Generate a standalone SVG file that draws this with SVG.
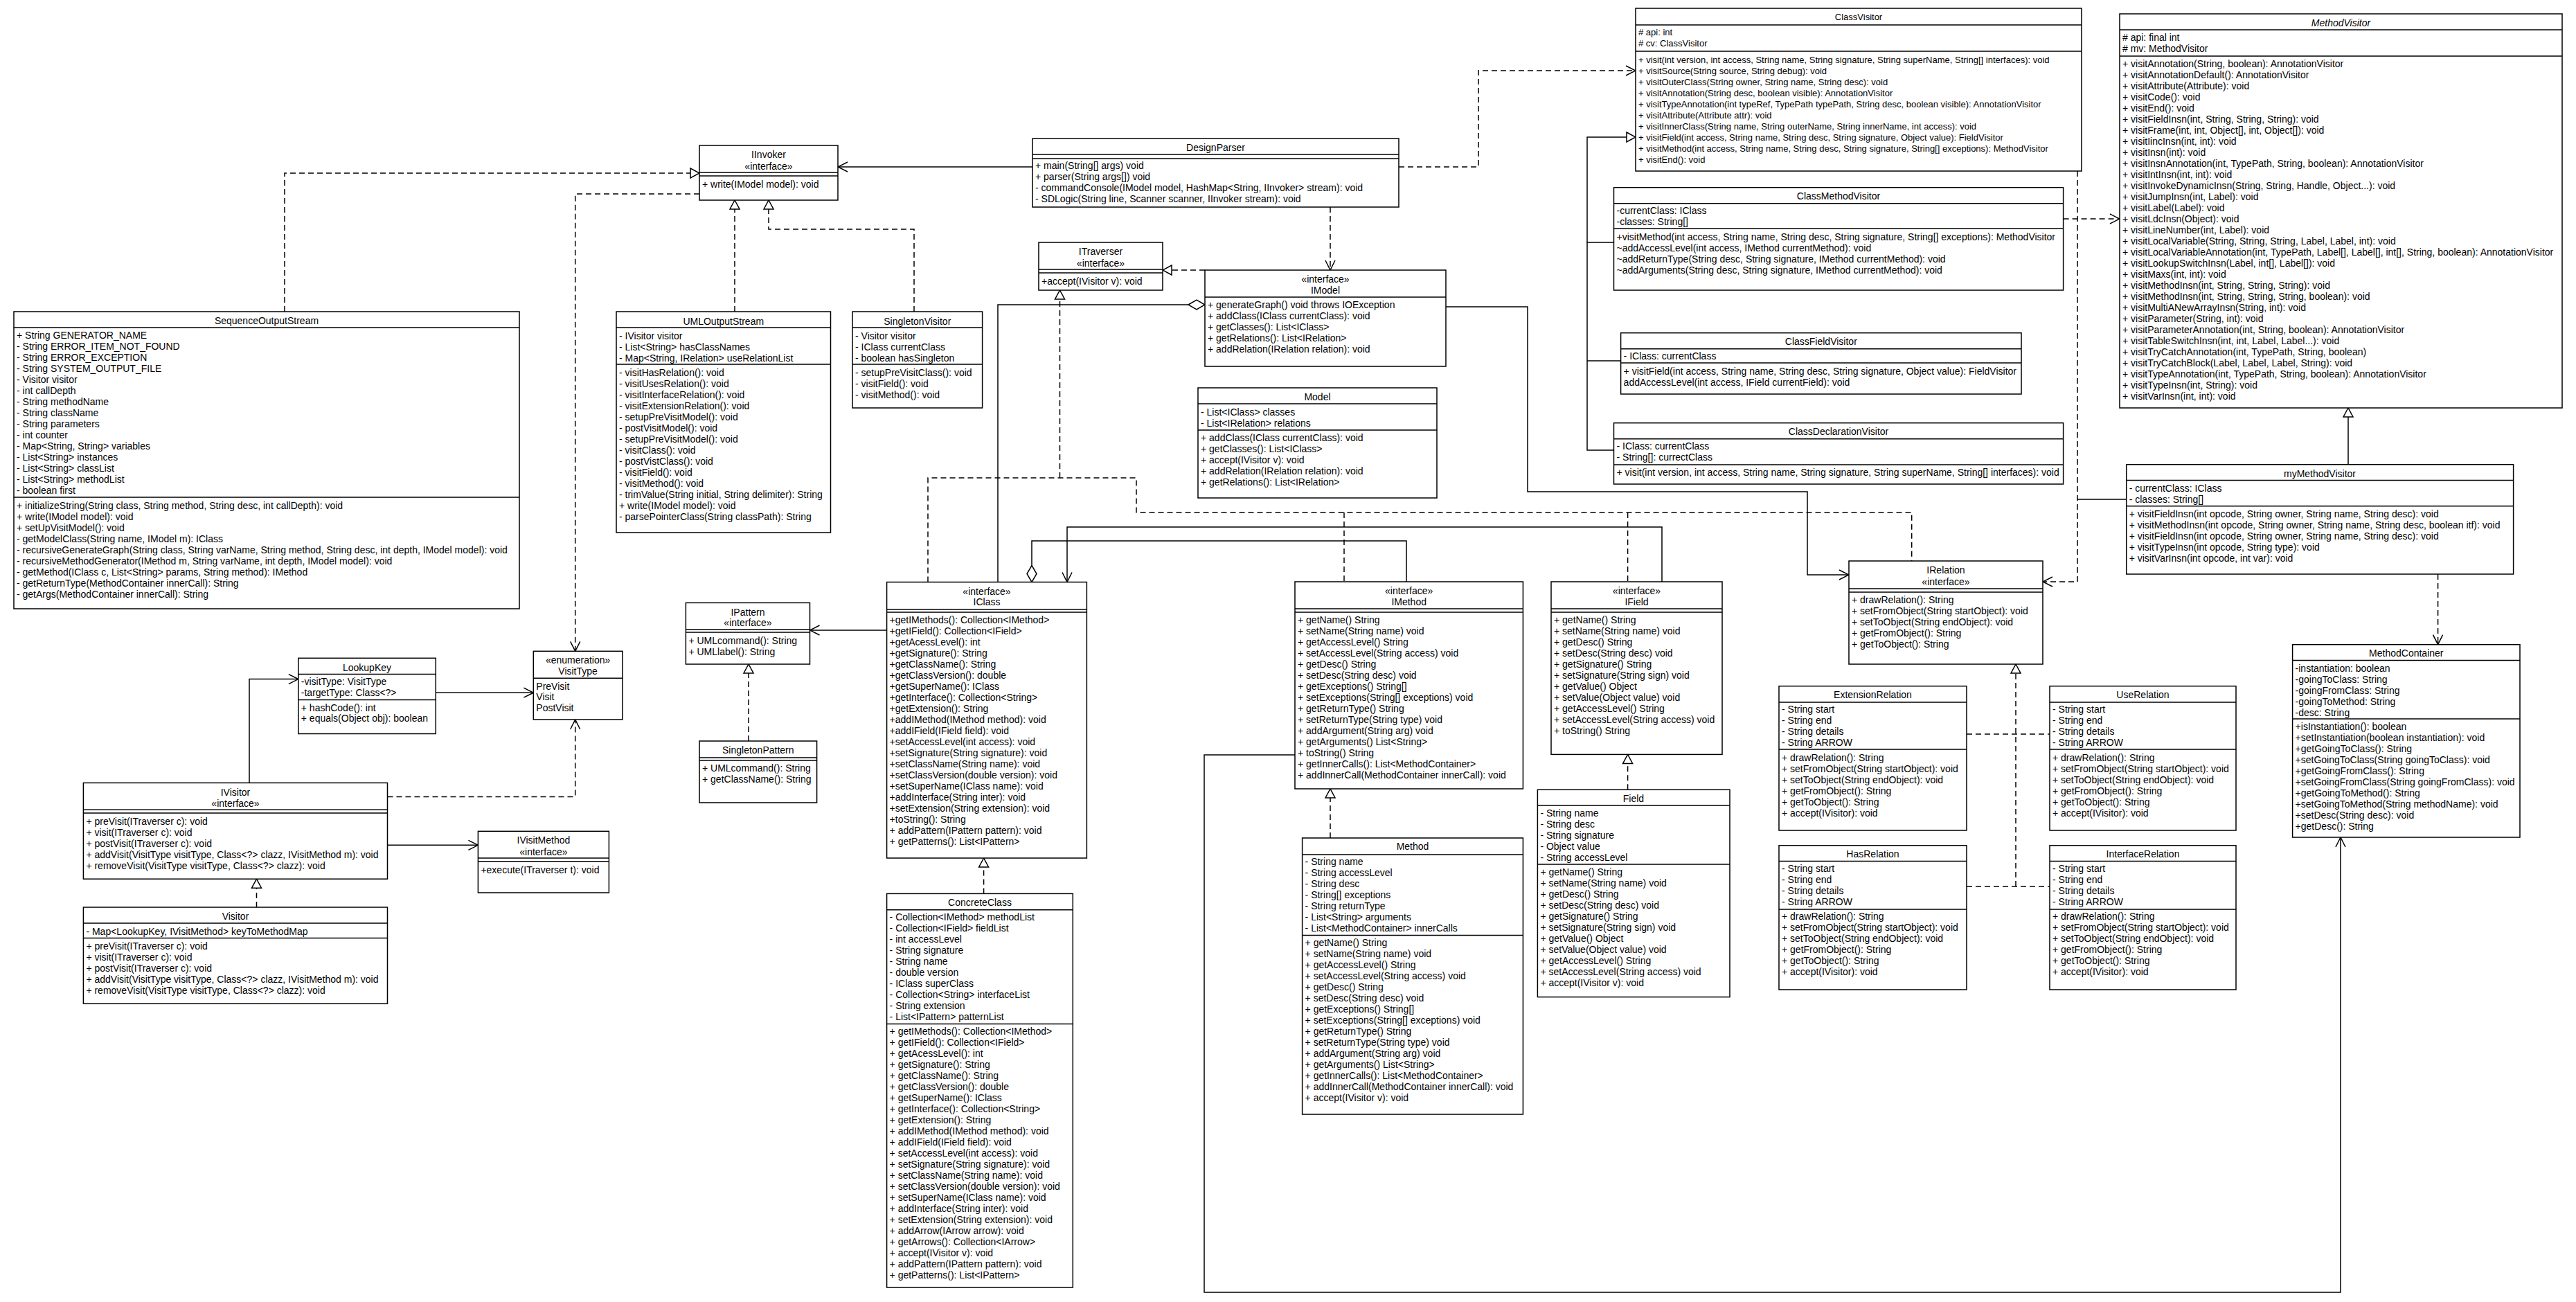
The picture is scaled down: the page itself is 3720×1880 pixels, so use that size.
<svg xmlns="http://www.w3.org/2000/svg" width="3720" height="1880" viewBox="0 0 3720 1880">
<style>
text{font-family:"Liberation Sans",Arial,sans-serif;font-size:14px;fill:#000}
.c{text-anchor:middle}
.b{fill:#fff;stroke:#000;stroke-width:1.5}
.s{stroke:#000;stroke-width:1.5;fill:none}
.e{fill:none;stroke:#000;stroke-width:1.5}
.d{stroke-dasharray:8 5}
.it{font-style:italic}
.f13 text{font-size:13px}
</style>
<defs>
<marker id="open" viewBox="0 0 16 16" refX="15" refY="8" markerWidth="16" markerHeight="16" markerUnits="userSpaceOnUse" orient="auto"><path d="M1 1L15 8L1 15" fill="none" stroke="#000" stroke-width="1.5"/></marker>
<marker id="tri" viewBox="0 0 16 18" refX="15" refY="9" markerWidth="16" markerHeight="18" markerUnits="userSpaceOnUse" orient="auto"><path d="M2 2L15 9L2 16Z" fill="#fff" stroke="#000" stroke-width="1.5"/></marker>
<marker id="dia" viewBox="0 0 26 18" refX="25" refY="9" markerWidth="26" markerHeight="18" markerUnits="userSpaceOnUse" orient="auto"><path d="M1 9L13 2L25 9L13 16Z" fill="#fff" stroke="#000" stroke-width="1.5"/></marker>
</defs>
<rect width="3720" height="1880" fill="#fff"/>

<g id="connectors">
<path class="e" d="M1491 241H1210" marker-end="url(#open)"/>
<path class="e d" d="M2020 241H2135V102H2362" marker-end="url(#open)"/>
<path class="e d" d="M1921 299V390" marker-end="url(#open)"/>
<path class="e d" d="M1740 390H1679" marker-end="url(#tri)"/>
<path class="e" d="M1441 840.5V440H1740" marker-end="url(#dia)"/>
<path class="e" d="M2088 443H2206V710H2610V830H2670" marker-end="url(#open)"/>
<path class="e d" d="M411 450V250H1010" marker-end="url(#tri)"/>
<path class="e d" d="M1061 450V289" marker-end="url(#tri)"/>
<path class="e d" d="M1320 450V331H1110V289" marker-end="url(#tri)"/>
<path class="e d" d="M1010 280H830.7V940.3" marker-end="url(#open)"/>
<path class="e" d="M1280.6 910H1169.5" marker-end="url(#open)"/>
<path class="e d" d="M1081 1070V959" marker-end="url(#tri)"/>
<path class="e d" d="M1420.6 1290.4V1239" marker-end="url(#tri)"/>
<path class="e d" d="M1340 840.5V690H1641V740H2760.7V810M1941 740V840M2350.6 740V840"/>
<path class="e d" d="M1530.5 690V419" marker-end="url(#tri)"/>
<path class="e" d="M2031 840V781H1490V840.5" marker-end="url(#dia)"/>
<path class="e" d="M2400 840V761H1541V840.5" marker-end="url(#open)"/>
<path class="e" d="M1870 1090H1739V1866H3380V1209" marker-end="url(#open)"/>
<path class="e d" d="M1921 1210V1139" marker-end="url(#tri)"/>
<path class="e d" d="M2350.6 1140.3V1089.4" marker-end="url(#tri)"/>
<path class="e" d="M629.3 1000.2H770.3" marker-end="url(#open)"/>
<path class="e" d="M360 1130.4V980.6H430.8" marker-end="url(#open)"/>
<path class="e d" d="M559.5 1150.4H830.7V1039" marker-end="url(#open)"/>
<path class="e" d="M559.5 1220.3H690.4" marker-end="url(#open)"/>
<path class="e d" d="M370.5 1310V1269.2" marker-end="url(#tri)"/>
<path class="e d" d="M2911 1280V959" marker-end="url(#tri)"/>
<path class="e d" d="M2840 1060H2960M2840 1280H2960"/>
<path class="e d" d="M3000 247V840H2950" marker-end="url(#open)"/>
<path class="e d" d="M2979.6 316H3061" marker-end="url(#open)"/>
<path class="e" d="M2330.5 350H2292V198H2362" marker-end="url(#tri)"/>
<path class="e" d="M2340.6 521H2292M2330.5 650H2292V350"/>
<path class="e" d="M3391 670.7V589" marker-end="url(#tri)"/>
<path class="e d" d="M3520.6 829V930.7" marker-end="url(#open)"/>
<path class="e" d="M3000 721H3070.7"/>
</g>

<g id="IInvoker">
<rect class="b" x="1010" y="210" width="200" height="79"/>
<path class="s" d="M1010 249H1210M1010 254H1210"/>
<text class="c" x="1110" y="228">IInvoker</text>
<text class="c" x="1110" y="245">«interface»</text>
<text x="1014" y="271">+ write(IModel model): void</text>
</g>

<g id="DesignParser">
<rect class="b" x="1491" y="200" width="529" height="99"/>
<path class="s" d="M1491 223H2020M1491 229H2020"/>
<text class="c" x="1755.5" y="218">DesignParser</text>
<text x="1495" y="244">+ main(String[] args) void</text>
<text x="1495" y="260">+ parser(String args[]) void</text>
<text x="1495" y="276">- commandConsole(IModel model, HashMap&lt;String, IInvoker&gt; stream): void</text>
<text x="1495" y="292">- SDLogic(String line, Scanner scanner, IInvoker stream): void</text>
</g>

<g id="ClassVisitor" class="f13">
<rect class="b" x="2362" y="12" width="644" height="235"/>
<path class="s" d="M2362 36H3006M2362 74H3006"/>
<text class="c" x="2684" y="29">ClassVisitor</text>
<text x="2366" y="51"># api: int</text>
<text x="2366" y="67"># cv: ClassVisitor</text>
<text x="2366" y="91">+ visit(int version, int access, String name, String signature, String superName, String[] interfaces): void</text>
<text x="2366" y="107">+ visitSource(String source, String debug): void</text>
<text x="2366" y="123">+ visitOuterClass(String owner, String name, String desc): void</text>
<text x="2366" y="139">+ visitAnnotation(String desc, boolean visible): AnnotationVisitor</text>
<text x="2366" y="155">+ visitTypeAnnotation(int typeRef, TypePath typePath, String desc, boolean visible): AnnotationVisitor</text>
<text x="2366" y="171">+ visitAttribute(Attribute attr): void</text>
<text x="2366" y="187">+ visitInnerClass(String name, String outerName, String innerName, int access): void</text>
<text x="2366" y="203">+ visitField(int access, String name, String desc, String signature, Object value): FieldVisitor</text>
<text x="2366" y="219">+ visitMethod(int access, String name, String desc, String signature, String[] exceptions): MethodVisitor</text>
<text x="2366" y="235">+ visitEnd(): void</text>
</g>

<g id="MethodVisitor">
<rect class="b" x="3061" y="20" width="639" height="569"/>
<path class="s" d="M3061 43H3700M3061 81H3700"/>
<text class="c it" x="3380.5" y="38">MethodVisitor</text>
<text x="3065" y="59"># api: final int</text>
<text x="3065" y="75"># mv: MethodVisitor</text>
<text x="3065" y="97">+ visitAnnotation(String, boolean): AnnotationVisitor</text>
<text x="3065" y="113">+ visitAnnotationDefault(): AnnotationVisitor</text>
<text x="3065" y="129">+ visitAttribute(Attribute): void</text>
<text x="3065" y="145">+ visitCode(): void</text>
<text x="3065" y="161">+ visitEnd(): void</text>
<text x="3065" y="177">+ visitFieldInsn(int, String, String, String): void</text>
<text x="3065" y="193">+ visitFrame(int, int, Object[], int, Object[]): void</text>
<text x="3065" y="209">+ visitIincInsn(int, int): void</text>
<text x="3065" y="225">+ visitInsn(int): void</text>
<text x="3065" y="241">+ visitInsnAnnotation(int, TypePath, String, boolean): AnnotationVisitor</text>
<text x="3065" y="257">+ visitIntInsn(int, int): void</text>
<text x="3065" y="273">+ visitInvokeDynamicInsn(String, String, Handle, Object...): void</text>
<text x="3065" y="289">+ visitJumpInsn(int, Label): void</text>
<text x="3065" y="305">+ visitLabel(Label): void</text>
<text x="3065" y="321">+ visitLdcInsn(Object): void</text>
<text x="3065" y="337">+ visitLineNumber(int, Label): void</text>
<text x="3065" y="353">+ visitLocalVariable(String, String, String, Label, Label, int): void</text>
<text x="3065" y="369">+ visitLocalVariableAnnotation(int, TypePath, Label[], Label[], int[], String, boolean): AnnotationVisitor</text>
<text x="3065" y="385">+ visitLookupSwitchInsn(Label, int[], Label[]): void</text>
<text x="3065" y="401">+ visitMaxs(int, int): void</text>
<text x="3065" y="417">+ visitMethodInsn(int, String, String, String): void</text>
<text x="3065" y="433">+ visitMethodInsn(int, String, String, String, boolean): void</text>
<text x="3065" y="449">+ visitMultiANewArrayInsn(String, int): void</text>
<text x="3065" y="465">+ visitParameter(String, int): void</text>
<text x="3065" y="481">+ visitParameterAnnotation(int, String, boolean): AnnotationVisitor</text>
<text x="3065" y="497">+ visitTableSwitchInsn(int, int, Label, Label...): void</text>
<text x="3065" y="513">+ visitTryCatchAnnotation(int, TypePath, String, boolean)</text>
<text x="3065" y="529">+ visitTryCatchBlock(Label, Label, Label, String): void</text>
<text x="3065" y="545">+ visitTypeAnnotation(int, TypePath, String, boolean): AnnotationVisitor</text>
<text x="3065" y="561">+ visitTypeInsn(int, String): void</text>
<text x="3065" y="577">+ visitVarInsn(int, int): void</text>
</g>

<g id="ClassMethodVisitor">
<rect class="b" x="2330.5" y="270.7" width="649.1" height="148.3"/>
<path class="s" d="M2330.5 293.7H2979.6M2330.5 330H2979.6"/>
<text class="c" x="2655" y="288">ClassMethodVisitor</text>
<text x="2334.5" y="309">-currentClass: IClass</text>
<text x="2334.5" y="325">-classes: String[]</text>
<text x="2334.5" y="347">+visitMethod(int access, String name, String desc, String signature, String[] exceptions): MethodVisitor</text>
<text x="2334.5" y="363">~addAccessLevel(int access, IMethod currentMethod): void</text>
<text x="2334.5" y="379">~addReturnType(String desc, String signature, IMethod currentMethod): void</text>
<text x="2334.5" y="395">~addArguments(String desc, String signature, IMethod currentMethod): void</text>
</g>

<g id="ClassFieldVisitor">
<rect class="b" x="2340.6" y="480.7" width="578.4" height="88.3"/>
<path class="s" d="M2340.6 503.7H2919M2340.6 524H2919"/>
<text class="c" x="2629.8" y="498">ClassFieldVisitor</text>
<text x="2344.6" y="519">- IClass: currentClass</text>
<text x="2344.6" y="541">+ visitField(int access, String name, String desc, String signature, Object value): FieldVisitor</text>
<text x="2344.6" y="557">addAccessLevel(int access, IField currentField): void</text>
</g>

<g id="ClassDeclarationVisitor">
<rect class="b" x="2330.5" y="610.7" width="649.1" height="88.3"/>
<path class="s" d="M2330.5 633.7H2979.6M2330.5 671H2979.6"/>
<text class="c" x="2655" y="628">ClassDeclarationVisitor</text>
<text x="2334.5" y="649">- IClass: currentClass</text>
<text x="2334.5" y="665">- String[]: currectClass</text>
<text x="2334.5" y="687">+ visit(int version, int access, String name, String signature, String superName, String[] interfaces): void</text>
</g>

<g id="myMethodVisitor">
<rect class="b" x="3070.7" y="670.7" width="558.9" height="158.3"/>
<path class="s" d="M3070.7 693.6H3629.6M3070.7 730.7H3629.6"/>
<text class="c" x="3350" y="688.6">myMethodVisitor</text>
<text x="3074.7" y="709.6">- currentClass: IClass</text>
<text x="3074.7" y="725.7">- classes: String[]</text>
<text x="3074.7" y="747">+ visitFieldInsn(int opcode, String owner, String name, String desc): void</text>
<text x="3074.7" y="763">+ visitMethodInsn(int opcode, String owner, String name, String desc, boolean itf): void</text>
<text x="3074.7" y="779">+ visitFieldInsn(int opcode, String owner, String name, String desc): void</text>
<text x="3074.7" y="795">+ visitTypeInsn(int opcode, String type): void</text>
<text x="3074.7" y="811">+ visitVarInsn(int opcode, int var): void</text>
</g>

<g id="MethodContainer">
<rect class="b" x="3310.6" y="930.7" width="328.4" height="278.3"/>
<path class="s" d="M3310.6 953.6H3639M3310.6 1038H3639"/>
<text class="c" x="3474.8" y="948">MethodContainer</text>
<text x="3314.6" y="969.6">-instantiation: boolean</text>
<text x="3314.6" y="985.6">-goingToClass: String</text>
<text x="3314.6" y="1001.6">-goingFromClass: String</text>
<text x="3314.6" y="1017.6">-goingToMethod: String</text>
<text x="3314.6" y="1033.6">-desc: String</text>
<text x="3314.6" y="1054">+isInstantiation(): boolean</text>
<text x="3314.6" y="1070">+setInstantiation(boolean instantiation): void</text>
<text x="3314.6" y="1086">+getGoingToClass(): String</text>
<text x="3314.6" y="1102">+setGoingToClass(String goingToClass): void</text>
<text x="3314.6" y="1118">+getGoingFromClass(): String</text>
<text x="3314.6" y="1134">+setGoingFromClass(String goingFromClass): void</text>
<text x="3314.6" y="1150">+getGoingToMethod(): String</text>
<text x="3314.6" y="1166">+setGoingToMethod(String methodName): void</text>
<text x="3314.6" y="1182">+setDesc(String desc): void</text>
<text x="3314.6" y="1198">+getDesc(): String</text>
</g>

<g id="SequenceOutputStream">
<rect class="b" x="20" y="450" width="730" height="429"/>
<path class="s" d="M20 473H750M20 718H750"/>
<text class="c" x="385" y="468">SequenceOutputStream</text>
<text x="24" y="489">+ String GENERATOR_NAME</text>
<text x="24" y="505">- String ERROR_ITEM_NOT_FOUND</text>
<text x="24" y="521">- String ERROR_EXCEPTION</text>
<text x="24" y="537">- String SYSTEM_OUTPUT_FILE</text>
<text x="24" y="553">- Visitor visitor</text>
<text x="24" y="569">- int callDepth</text>
<text x="24" y="585">- String methodName</text>
<text x="24" y="601">- String className</text>
<text x="24" y="617">- String parameters</text>
<text x="24" y="633">- int counter</text>
<text x="24" y="649">- Map&lt;String, String&gt; variables</text>
<text x="24" y="665">- List&lt;String&gt; instances</text>
<text x="24" y="681">- List&lt;String&gt; classList</text>
<text x="24" y="697">- List&lt;String&gt; methodList</text>
<text x="24" y="713">- boolean first</text>
<text x="24" y="735">+ initializeString(String class, String method, String desc, int callDepth): void</text>
<text x="24" y="751">+ write(IModel model): void</text>
<text x="24" y="767">+ setUpVisitModel(): void</text>
<text x="24" y="783">- getModelClass(String name, IModel m): IClass</text>
<text x="24" y="799">- recursiveGenerateGraph(String class, String varName, String method, String desc, int depth, IModel model): void</text>
<text x="24" y="815">- recursiveMethodGenerator(IMethod m, String varName, int depth, IModel model): void</text>
<text x="24" y="831">- getMethod(IClass c, List&lt;String&gt; params, String method): IMethod</text>
<text x="24" y="847">- getReturnType(MethodContainer innerCall): String</text>
<text x="24" y="863">- getArgs(MethodContainer innerCall): String</text>
</g>

<g id="UMLOutputStream">
<rect class="b" x="890" y="450" width="309.5" height="319"/>
<path class="s" d="M890 473H1199.5M890 526H1199.5"/>
<text class="c" x="1044.75" y="469">UMLOutputStream</text>
<text x="894" y="490">- IVisitor visitor</text>
<text x="894" y="506">- List&lt;String&gt; hasClassNames</text>
<text x="894" y="522">- Map&lt;String, IRelation&gt; useRelationList</text>
<text x="894" y="543">- visitHasRelation(): void</text>
<text x="894" y="559">- visitUsesRelation(): void</text>
<text x="894" y="575">- visitInterfaceRelation(): void</text>
<text x="894" y="591">- visitExtensionRelation(): void</text>
<text x="894" y="607">- setupPreVisitModel(): void</text>
<text x="894" y="623">- postVisitModel(): void</text>
<text x="894" y="639">- setupPreVisitModel(): void</text>
<text x="894" y="655">- visitClass(): void</text>
<text x="894" y="671">- postVistClass(): void</text>
<text x="894" y="687">- visitField(): void</text>
<text x="894" y="703">- visitMethod(): void</text>
<text x="894" y="719">- trimValue(String initial, String delimiter): String</text>
<text x="894" y="735">+ write(IModel model): void</text>
<text x="894" y="751">- parsePointerClass(String classPath): String</text>
</g>

<g id="SingletonVisitor">
<rect class="b" x="1231" y="450" width="187.6" height="139"/>
<path class="s" d="M1231 473H1418.6M1231 526H1418.6"/>
<text class="c" x="1324.8" y="469">SingletonVisitor</text>
<text x="1235" y="490">- Visitor visitor</text>
<text x="1235" y="506">- IClass currentClass</text>
<text x="1235" y="522">- boolean hasSingleton</text>
<text x="1235" y="543">- setupPreVisitClass(): void</text>
<text x="1235" y="559">- visitField(): void</text>
<text x="1235" y="575">- visitMethod(): void</text>
</g>

<g id="ITraverser">
<rect class="b" x="1500" y="350" width="179" height="69"/>
<path class="s" d="M1500 389H1679M1500 394H1679"/>
<text class="c" x="1589.5" y="368">ITraverser</text>
<text class="c" x="1589.5" y="385">«interface»</text>
<text x="1504" y="411">+accept(IVisitor v): void</text>
</g>

<g id="IModel">
<rect class="b" x="1740" y="390" width="348" height="139"/>
<path class="s" d="M1740 429H2088"/>
<text class="c" x="1914" y="408">«interface»</text>
<text class="c" x="1914" y="424">IModel</text>
<text x="1744" y="445">+ generateGraph() void throws IOException</text>
<text x="1744" y="461">+ addClass(IClass currentClass): void</text>
<text x="1744" y="477">+ getClasses(): List&lt;IClass&gt;</text>
<text x="1744" y="493">+ getRelations(): List&lt;IRelation&gt;</text>
<text x="1744" y="509">+ addRelation(IRelation relation): void</text>
</g>

<g id="Model">
<rect class="b" x="1730" y="560" width="345" height="159"/>
<path class="s" d="M1730 583H2075M1730 621H2075"/>
<text class="c" x="1902.5" y="578">Model</text>
<text x="1734" y="600">- List&lt;IClass&gt; classes</text>
<text x="1734" y="616">- List&lt;IRelation&gt; relations</text>
<text x="1734" y="637">+ addClass(IClass currentClass): void</text>
<text x="1734" y="653">+ getClasses(): List&lt;IClass&gt;</text>
<text x="1734" y="669">+ accept(IVisitor v): void</text>
<text x="1734" y="685">+ addRelation(IRelation relation): void</text>
<text x="1734" y="701">+ getRelations(): List&lt;IRelation&gt;</text>
</g>

<g id="IClass">
<rect class="b" x="1280.6" y="840.5" width="288.8" height="398.5"/>
<path class="s" d="M1280.6 880H1569.4M1280.6 884H1569.4"/>
<text class="c" x="1425" y="858.6">«interface»</text>
<text class="c" x="1425" y="874">IClass</text>
<text x="1284.6" y="900">+getIMethods(): Collection&lt;IMethod&gt;</text>
<text x="1284.6" y="916">+getIField(): Collection&lt;IField&gt;</text>
<text x="1284.6" y="932">+getAcessLevel(): int</text>
<text x="1284.6" y="948">+getSignature(): String</text>
<text x="1284.6" y="964">+getClassName(): String</text>
<text x="1284.6" y="980">+getClassVersion(): double</text>
<text x="1284.6" y="996">+getSuperName(): IClass</text>
<text x="1284.6" y="1012">+getInterface(): Collection&lt;String&gt;</text>
<text x="1284.6" y="1028">+getExtension(): String</text>
<text x="1284.6" y="1044">+addIMethod(IMethod method): void</text>
<text x="1284.6" y="1060">+addIField(IField field): void</text>
<text x="1284.6" y="1076">+setAccessLevel(int access): void</text>
<text x="1284.6" y="1092">+setSignature(String signature): void</text>
<text x="1284.6" y="1108">+setClassName(String name): void</text>
<text x="1284.6" y="1124">+setClassVersion(double version): void</text>
<text x="1284.6" y="1140">+setSuperName(IClass name): void</text>
<text x="1284.6" y="1156">+addInterface(String inter): void</text>
<text x="1284.6" y="1172">+setExtension(String extension): void</text>
<text x="1284.6" y="1188">+toString(): String</text>
<text x="1284.6" y="1204">+ addPattern(IPattern pattern): void</text>
<text x="1284.6" y="1220">+ getPatterns(): List&lt;IPattern&gt;</text>
</g>

<g id="IPattern">
<rect class="b" x="990.4" y="870.4" width="179.1" height="88.6"/>
<path class="s" d="M990.4 909H1169.5M990.4 913H1169.5"/>
<text class="c" x="1080" y="888.5">IPattern</text>
<text class="c" x="1080" y="904">«interface»</text>
<text x="994.4" y="930">+ UMLcommand(): String</text>
<text x="994.4" y="946">+ UMLlabel(): String</text>
</g>

<g id="SingletonPattern">
<rect class="b" x="1010" y="1070" width="169.6" height="89"/>
<path class="s" d="M1010 1094H1179.6M1010 1098H1179.6"/>
<text class="c" x="1094.8" y="1088">SingletonPattern</text>
<text x="1014" y="1114">+ UMLcommand(): String</text>
<text x="1014" y="1130">+ getClassName(): String</text>
</g>

<g id="ConcreteClass">
<rect class="b" x="1280.6" y="1290.4" width="268.7" height="568.6"/>
<path class="s" d="M1280.6 1313.7H1549.3M1280.6 1478.6H1549.3"/>
<text class="c" x="1415" y="1308">ConcreteClass</text>
<text x="1284.6" y="1329">- Collection&lt;IMethod&gt; methodList</text>
<text x="1284.6" y="1345">- Collection&lt;IField&gt; fieldList</text>
<text x="1284.6" y="1361">- int accessLevel</text>
<text x="1284.6" y="1377">- String signature</text>
<text x="1284.6" y="1393">- String name</text>
<text x="1284.6" y="1409">- double version</text>
<text x="1284.6" y="1425">- IClass superClass</text>
<text x="1284.6" y="1441">- Collection&lt;String&gt; interfaceList</text>
<text x="1284.6" y="1457">- String extension</text>
<text x="1284.6" y="1473">- List&lt;IPattern&gt; patternList</text>
<text x="1284.6" y="1494">+ getIMethods(): Collection&lt;IMethod&gt;</text>
<text x="1284.6" y="1510">+ getIField(): Collection&lt;IField&gt;</text>
<text x="1284.6" y="1526">+ getAcessLevel(): int</text>
<text x="1284.6" y="1542">+ getSignature(): String</text>
<text x="1284.6" y="1558">+ getClassName(): String</text>
<text x="1284.6" y="1574">+ getClassVersion(): double</text>
<text x="1284.6" y="1590">+ getSuperName(): IClass</text>
<text x="1284.6" y="1606">+ getInterface(): Collection&lt;String&gt;</text>
<text x="1284.6" y="1622">+ getExtension(): String</text>
<text x="1284.6" y="1638">+ addIMethod(IMethod method): void</text>
<text x="1284.6" y="1654">+ addIField(IField field): void</text>
<text x="1284.6" y="1670">+ setAccessLevel(int access): void</text>
<text x="1284.6" y="1686">+ setSignature(String signature): void</text>
<text x="1284.6" y="1702">+ setClassName(String name): void</text>
<text x="1284.6" y="1718">+ setClassVersion(double version): void</text>
<text x="1284.6" y="1734">+ setSuperName(IClass name): void</text>
<text x="1284.6" y="1750">+ addInterface(String inter): void</text>
<text x="1284.6" y="1766">+ setExtension(String extension): void</text>
<text x="1284.6" y="1782">+ addArrow(IArrow arrow): void</text>
<text x="1284.6" y="1798">+ getArrows(): Collection&lt;IArrow&gt;</text>
<text x="1284.6" y="1814">+ accept(IVisitor v): void</text>
<text x="1284.6" y="1830">+ addPattern(IPattern pattern): void</text>
<text x="1284.6" y="1846">+ getPatterns(): List&lt;IPattern&gt;</text>
</g>

<g id="IMethod">
<rect class="b" x="1870" y="840" width="329.4" height="299"/>
<path class="s" d="M1870 879H2199.4M1870 884H2199.4"/>
<text class="c" x="2034.7" y="858">«interface»</text>
<text class="c" x="2034.7" y="874">IMethod</text>
<text x="1874" y="900">+ getName() String</text>
<text x="1874" y="916">+ setName(String name) void</text>
<text x="1874" y="932">+ getAccessLevel() String</text>
<text x="1874" y="948">+ setAccessLevel(String access) void</text>
<text x="1874" y="964">+ getDesc() String</text>
<text x="1874" y="980">+ setDesc(String desc) void</text>
<text x="1874" y="996">+ getExceptions() String[]</text>
<text x="1874" y="1012">+ setExceptions(String[] exceptions) void</text>
<text x="1874" y="1028">+ getReturnType() String</text>
<text x="1874" y="1044">+ setReturnType(String type) void</text>
<text x="1874" y="1060">+ addArgument(String arg) void</text>
<text x="1874" y="1076">+ getArguments() List&lt;String&gt;</text>
<text x="1874" y="1092">+ toString() String</text>
<text x="1874" y="1108">+ getInnerCalls(): List&lt;MethodContainer&gt;</text>
<text x="1874" y="1124">+ addInnerCall(MethodContainer innerCall): void</text>
</g>

<g id="Method">
<rect class="b" x="1880.6" y="1210" width="318.8" height="399"/>
<path class="s" d="M1880.6 1234H2199.4M1880.6 1350.4H2199.4"/>
<text class="c" x="2040" y="1227.4">Method</text>
<text x="1884.6" y="1249">- String name</text>
<text x="1884.6" y="1265">- String accessLevel</text>
<text x="1884.6" y="1281">- String desc</text>
<text x="1884.6" y="1297">- String[] exceptions</text>
<text x="1884.6" y="1313">- String returnType</text>
<text x="1884.6" y="1329">- List&lt;String&gt; arguments</text>
<text x="1884.6" y="1345">- List&lt;MethodContainer&gt; innerCalls</text>
<text x="1884.6" y="1366">+ getName() String</text>
<text x="1884.6" y="1382">+ setName(String name) void</text>
<text x="1884.6" y="1398">+ getAccessLevel() String</text>
<text x="1884.6" y="1414">+ setAccessLevel(String access) void</text>
<text x="1884.6" y="1430">+ getDesc() String</text>
<text x="1884.6" y="1446">+ setDesc(String desc) void</text>
<text x="1884.6" y="1462">+ getExceptions() String[]</text>
<text x="1884.6" y="1478">+ setExceptions(String[] exceptions) void</text>
<text x="1884.6" y="1494">+ getReturnType() String</text>
<text x="1884.6" y="1510">+ setReturnType(String type) void</text>
<text x="1884.6" y="1526">+ addArgument(String arg) void</text>
<text x="1884.6" y="1542">+ getArguments() List&lt;String&gt;</text>
<text x="1884.6" y="1558">+ getInnerCalls(): List&lt;MethodContainer&gt;</text>
<text x="1884.6" y="1574">+ addInnerCall(MethodContainer innerCall): void</text>
<text x="1884.6" y="1590">+ accept(IVisitor v): void</text>
</g>

<g id="IField">
<rect class="b" x="2240" y="840" width="247" height="249.4"/>
<path class="s" d="M2240 879H2487M2240 884H2487"/>
<text class="c" x="2363.5" y="858">«interface»</text>
<text class="c" x="2363.5" y="874">IField</text>
<text x="2244" y="900">+ getName() String</text>
<text x="2244" y="916">+ setName(String name) void</text>
<text x="2244" y="932">+ getDesc() String</text>
<text x="2244" y="948">+ setDesc(String desc) void</text>
<text x="2244" y="964">+ getSignature() String</text>
<text x="2244" y="980">+ setSignature(String sign) void</text>
<text x="2244" y="996">+ getValue() Object</text>
<text x="2244" y="1012">+ setValue(Object value) void</text>
<text x="2244" y="1028">+ getAccessLevel() String</text>
<text x="2244" y="1044">+ setAccessLevel(String access) void</text>
<text x="2244" y="1060">+ toString() String</text>
</g>

<g id="Field">
<rect class="b" x="2220.4" y="1140.3" width="277.6" height="299.3"/>
<path class="s" d="M2220.4 1163H2498M2220.4 1248H2498"/>
<text class="c" x="2359" y="1158">Field</text>
<text x="2224.4" y="1179">- String name</text>
<text x="2224.4" y="1195">- String desc</text>
<text x="2224.4" y="1211">- String signature</text>
<text x="2224.4" y="1227">- Object value</text>
<text x="2224.4" y="1243">- String accessLevel</text>
<text x="2224.4" y="1264">+ getName() String</text>
<text x="2224.4" y="1280">+ setName(String name) void</text>
<text x="2224.4" y="1296">+ getDesc() String</text>
<text x="2224.4" y="1312">+ setDesc(String desc) void</text>
<text x="2224.4" y="1328">+ getSignature() String</text>
<text x="2224.4" y="1344">+ setSignature(String sign) void</text>
<text x="2224.4" y="1360">+ getValue() Object</text>
<text x="2224.4" y="1376">+ setValue(Object value) void</text>
<text x="2224.4" y="1392">+ getAccessLevel() String</text>
<text x="2224.4" y="1408">+ setAccessLevel(String access) void</text>
<text x="2224.4" y="1424">+ accept(IVisitor v): void</text>
</g>

<g id="IRelation">
<rect class="b" x="2670" y="810" width="280" height="149"/>
<path class="s" d="M2670 850H2950M2670 855H2950"/>
<text class="c" x="2810" y="828">IRelation</text>
<text class="c" x="2810" y="845">«interface»</text>
<text x="2674" y="870.5">+ drawRelation(): String</text>
<text x="2674" y="886.5">+ setFromObject(String startObject): void</text>
<text x="2674" y="902.5">+ setToObject(String endObject): void</text>
<text x="2674" y="918.5">+ getFromObject(): String</text>
<text x="2674" y="934.5">+ getToObject(): String</text>
</g>

<g id="ExtensionRelation">
<rect class="b" x="2569" y="990.7" width="271" height="208.3"/>
<path class="s" d="M2569 1014H2840M2569 1082H2840"/>
<text class="c" x="2704.5" y="1008">ExtensionRelation</text>
<text x="2573" y="1029">- String start</text>
<text x="2573" y="1045">- String end</text>
<text x="2573" y="1061">- String details</text>
<text x="2573" y="1077">- String ARROW</text>
<text x="2573" y="1098.5">+ drawRelation(): String</text>
<text x="2573" y="1114.5">+ setFromObject(String startObject): void</text>
<text x="2573" y="1130.5">+ setToObject(String endObject): void</text>
<text x="2573" y="1146.5">+ getFromObject(): String</text>
<text x="2573" y="1162.5">+ getToObject(): String</text>
<text x="2573" y="1178.5">+ accept(IVisitor): void</text>
</g>

<g id="UseRelation">
<rect class="b" x="2960" y="990.7" width="269" height="208.3"/>
<path class="s" d="M2960 1014H3229M2960 1082H3229"/>
<text class="c" x="3094.5" y="1008">UseRelation</text>
<text x="2964" y="1029">- String start</text>
<text x="2964" y="1045">- String end</text>
<text x="2964" y="1061">- String details</text>
<text x="2964" y="1077">- String ARROW</text>
<text x="2964" y="1098.5">+ drawRelation(): String</text>
<text x="2964" y="1114.5">+ setFromObject(String startObject): void</text>
<text x="2964" y="1130.5">+ setToObject(String endObject): void</text>
<text x="2964" y="1146.5">+ getFromObject(): String</text>
<text x="2964" y="1162.5">+ getToObject(): String</text>
<text x="2964" y="1178.5">+ accept(IVisitor): void</text>
</g>

<g id="HasRelation">
<rect class="b" x="2569" y="1220.8" width="271" height="208.2"/>
<path class="s" d="M2569 1243.6H2840M2569 1313H2840"/>
<text class="c" x="2704.5" y="1238">HasRelation</text>
<text x="2573" y="1259">- String start</text>
<text x="2573" y="1275">- String end</text>
<text x="2573" y="1291">- String details</text>
<text x="2573" y="1307">- String ARROW</text>
<text x="2573" y="1328">+ drawRelation(): String</text>
<text x="2573" y="1344">+ setFromObject(String startObject): void</text>
<text x="2573" y="1360">+ setToObject(String endObject): void</text>
<text x="2573" y="1376">+ getFromObject(): String</text>
<text x="2573" y="1392">+ getToObject(): String</text>
<text x="2573" y="1408">+ accept(IVisitor): void</text>
</g>

<g id="InterfaceRelation">
<rect class="b" x="2960" y="1220.8" width="269" height="208.2"/>
<path class="s" d="M2960 1243.6H3229M2960 1313H3229"/>
<text class="c" x="3094.5" y="1238">InterfaceRelation</text>
<text x="2964" y="1259">- String start</text>
<text x="2964" y="1275">- String end</text>
<text x="2964" y="1291">- String details</text>
<text x="2964" y="1307">- String ARROW</text>
<text x="2964" y="1328">+ drawRelation(): String</text>
<text x="2964" y="1344">+ setFromObject(String startObject): void</text>
<text x="2964" y="1360">+ setToObject(String endObject): void</text>
<text x="2964" y="1376">+ getFromObject(): String</text>
<text x="2964" y="1392">+ getToObject(): String</text>
<text x="2964" y="1408">+ accept(IVisitor): void</text>
</g>

<g id="LookupKey">
<rect class="b" x="430.8" y="950.3" width="198.5" height="109.2"/>
<path class="s" d="M430.8 973.4H629.3M430.8 1010.6H629.3"/>
<text class="c" x="530" y="968.7">LookupKey</text>
<text x="434.8" y="989.4">-visitType: VisitType</text>
<text x="434.8" y="1005.2">-targetType: Class&lt;?&gt;</text>
<text x="434.8" y="1026.6">+ hashCode(): int</text>
<text x="434.8" y="1042.4">+ equals(Object obj): boolean</text>
</g>

<g id="VisitType">
<rect class="b" x="770.3" y="940.3" width="128.7" height="98.7"/>
<path class="s" d="M770.3 979.2H899"/>
<text class="c" x="834.6" y="958.4">«enumeration»</text>
<text class="c" x="834.6" y="974.2">VisitType</text>
<text x="774.3" y="995.6">PreVisit</text>
<text x="774.3" y="1011.4">Visit</text>
<text x="774.3" y="1027.3">PostVisit</text>
</g>

<g id="IVisitor">
<rect class="b" x="120.4" y="1130.4" width="439.1" height="138.8"/>
<path class="s" d="M120.4 1169.3H559.5M120.4 1174H559.5"/>
<text class="c" x="340" y="1148.5">IVisitor</text>
<text class="c" x="340" y="1164.7">«interface»</text>
<text x="124.4" y="1190.5">+ preVisit(ITraverser c): void</text>
<text x="124.4" y="1206.5">+ visit(ITraverser c): void</text>
<text x="124.4" y="1222.5">+ postVisit(ITraverser c): void</text>
<text x="124.4" y="1238.5">+ addVisit(VisitType visitType, Class&lt;?&gt; clazz, IVisitMethod m): void</text>
<text x="124.4" y="1254.5">+ removeVisit(VisitType visitType, Class&lt;?&gt; clazz): void</text>
</g>

<g id="IVisitMethod">
<rect class="b" x="690.4" y="1200.3" width="189" height="88.7"/>
<path class="s" d="M690.4 1238.9H879.4M690.4 1243.7H879.4"/>
<text class="c" x="784.9" y="1218.4">IVisitMethod</text>
<text class="c" x="784.9" y="1234.6">«interface»</text>
<text x="694.4" y="1260.7">+execute(ITraverser t): void</text>
</g>

<g id="Visitor">
<rect class="b" x="120.4" y="1310" width="439.1" height="139.3"/>
<path class="s" d="M120.4 1333H559.5M120.4 1354.6H559.5"/>
<text class="c" x="340" y="1328">Visitor</text>
<text x="124.4" y="1350">- Map&lt;LookupKey, IVisitMethod&gt; keyToMethodMap</text>
<text x="124.4" y="1370.6">+ preVisit(ITraverser c): void</text>
<text x="124.4" y="1386.6">+ visit(ITraverser c): void</text>
<text x="124.4" y="1402.6">+ postVisit(ITraverser c): void</text>
<text x="124.4" y="1418.6">+ addVisit(VisitType visitType, Class&lt;?&gt; clazz, IVisitMethod m): void</text>
<text x="124.4" y="1434.6">+ removeVisit(VisitType visitType, Class&lt;?&gt; clazz): void</text>
</g>
</svg>
